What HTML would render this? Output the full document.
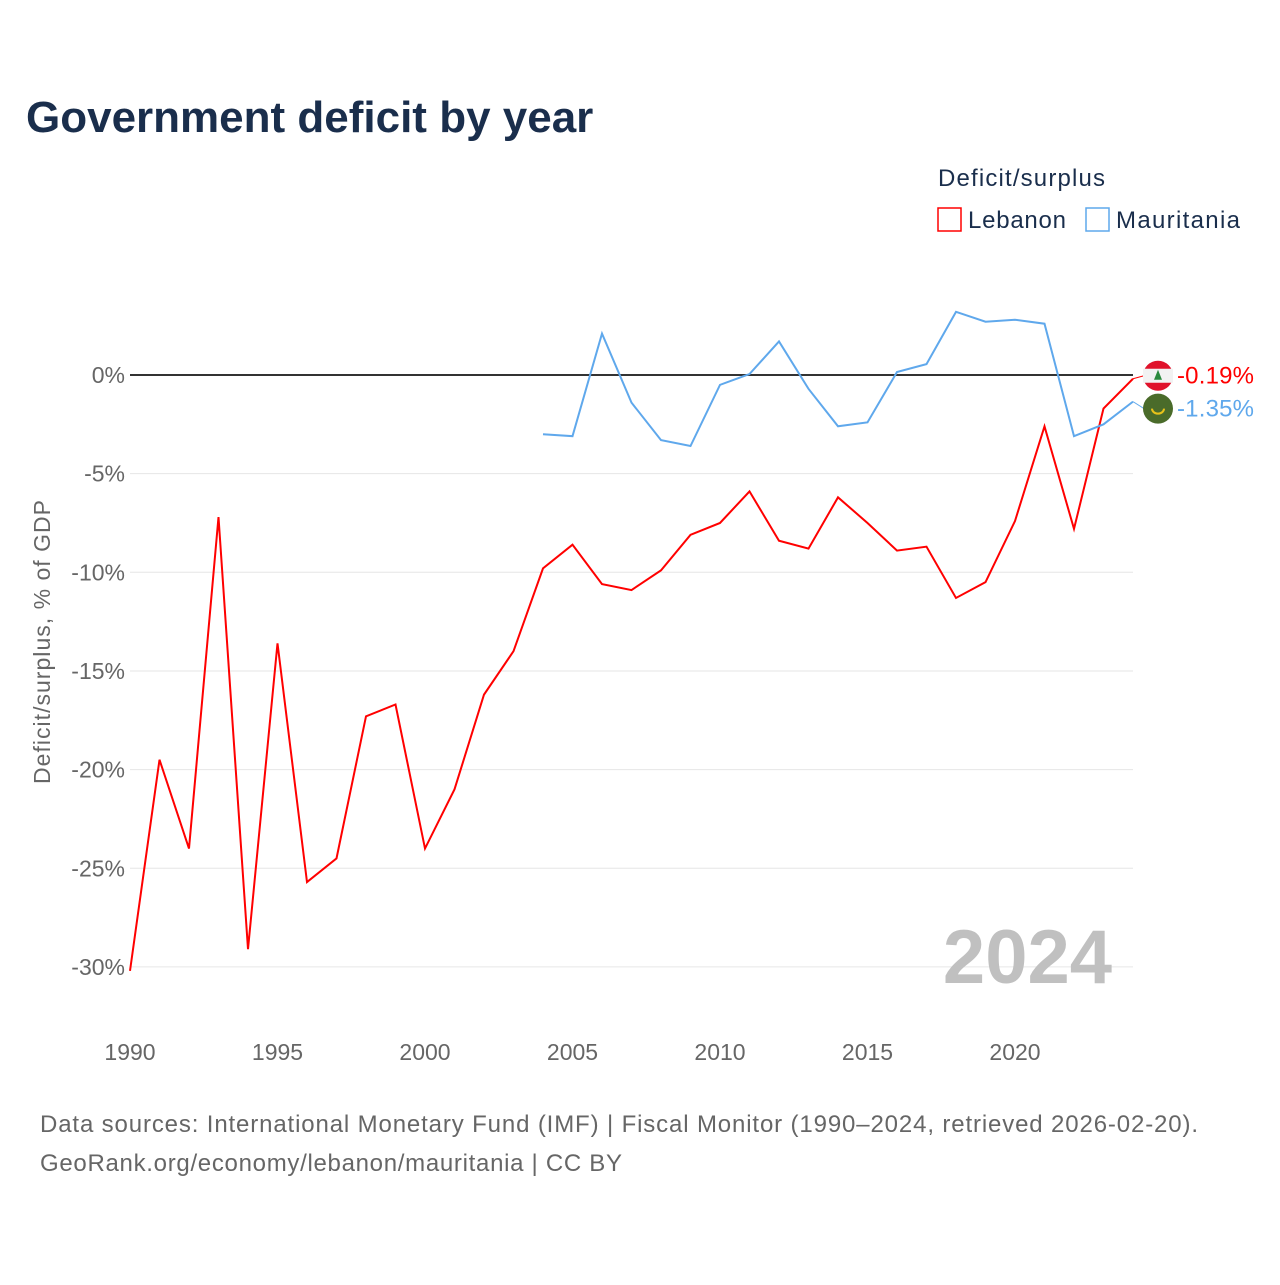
<!DOCTYPE html>
<html><head><meta charset="utf-8"><style>
body{margin:0;background:#fff;font-family:"Liberation Sans",sans-serif;}
</style></head><body>
<svg width="1280" height="1280" viewBox="0 0 1280 1280">
<text x="26" y="132" font-size="44" font-weight="bold" fill="#1a2e4c">Government deficit by year</text>
<text x="938" y="186" font-size="24" fill="#1a2e4c" textLength="167">Deficit/surplus</text>
<g><rect x="938" y="208" width="23" height="23" fill="none" stroke="#f00" stroke-width="1.5"/><text x="968" y="228" font-size="24" fill="#1a2e4c" textLength="98">Lebanon</text></g>
<g><rect x="1086" y="208" width="23" height="23" fill="none" stroke="#5fa8ec" stroke-width="1.5"/><text x="1116" y="228" font-size="24" fill="#1a2e4c" textLength="124">Mauritania</text></g>
<text transform="translate(50,642) rotate(-90)" text-anchor="middle" font-size="23" fill="#666" textLength="284">Deficit/surplus, % of GDP</text>
<g id="grid"></g><g id="xt"></g>
<text x="1112" y="983" text-anchor="end" font-size="76" font-weight="bold" fill="#c0c0c0">2024</text>
<g id="series"></g>
<text x="40" y="1132" font-size="24" fill="#666" textLength="1158">Data sources: International Monetary Fund (IMF) | Fiscal Monitor (1990–2024, retrieved 2026-02-20).</text>
<text x="40" y="1171" font-size="24" fill="#666" textLength="582">GeoRank.org/economy/lebanon/mauritania | CC BY</text>
</svg>
<script>
const years=[];for(let y=1990;y<=2024;y++)years.push(y);
const lebanon=[-30.2,-19.5,-24.0,-7.2,-29.1,-13.6,-25.7,-24.5,-17.3,-16.7,-24.0,-21.0,-16.2,-14.0,-9.8,-8.6,-10.6,-10.9,-9.9,-8.1,-7.5,-5.9,-8.4,-8.8,-6.2,-7.5,-8.9,-8.7,-11.3,-10.5,-7.4,-2.6,-7.8,-1.7,-0.19];
const mauritaniaYears=[2004,2005,2006,2007,2008,2009,2010,2011,2012,2013,2014,2015,2016,2017,2018,2019,2020,2021,2022,2023,2024];
const mauritania=[-3.0,-3.1,2.1,-1.4,-3.3,-3.6,-0.5,0.05,1.7,-0.7,-2.6,-2.4,0.15,0.55,3.2,2.7,2.8,2.6,-3.1,-2.5,-1.35];
const yTicks=[0,-5,-10,-15,-20,-25,-30];
const xTicks=[1990,1995,2000,2005,2010,2015,2020];
const NS='http://www.w3.org/2000/svg';
const X=y=>130+(y-1990)*(1133-130)/34;
const Y=v=>375-v*19.73;
function mk(t,a,p){const e=document.createElementNS(NS,t);for(const k in a)e.setAttribute(k,a[k]);p.appendChild(e);return e;}
const grid=document.getElementById('grid');
yTicks.forEach(t=>{
 const l=mk('line',{x1:130,x2:1133,y1:Y(t),y2:Y(t),stroke:t===0?'#333':'#e6e6e6','stroke-width':t===0?2:1},grid);
 
 
 const tx=mk('text',{x:125,y:Y(t)+8,'text-anchor':'end','font-size':23,fill:'#666'},grid);
 tx.textContent=t+'%';
 
 
});
const xt=document.getElementById('xt');
xTicks.forEach(t=>{
 const tx=mk('text',{x:X(t),y:1060,'text-anchor':'middle','font-size':23,fill:'#666'},xt);
 tx.textContent=t;
 
 
});
const s=document.getElementById('series');
const p1=mk('polyline',{points:years.map((y,i)=>X(y)+','+Y(lebanon[i])).join(' '),fill:'none',stroke:'#f00','stroke-width':2},s);


const p2=mk('polyline',{points:mauritaniaYears.map((y,i)=>X(y)+','+Y(mauritania[i])).join(' '),fill:'none',stroke:'#5fa8ec','stroke-width':2},s);


const lv=lebanon[lebanon.length-1],mv=mauritania[mauritania.length-1];
const ly=Y(lv)-3,my=Y(mv)+7;
mk('line',{x1:X(2024),y1:Y(lv),x2:1144,y2:ly,stroke:'#f00','stroke-width':1},s);
mk('line',{x1:X(2024),y1:Y(mv),x2:1144,y2:my,stroke:'#5fa8ec','stroke-width':1},s);
const f1=mk('g',{},s);


mk('circle',{cx:1158,cy:ly,r:15,fill:'#e0122b'},f1);
mk('rect',{x:1143,y:ly-7,width:30,height:14,fill:'#f2f2f2'},f1);
mk('polygon',{points:`1158,${ly-6} 1162,${ly+4} 1154,${ly+4}`,fill:'#2b8a3e'},f1);
const f2=mk('g',{},s);


mk('circle',{cx:1158,cy:my,r:15,fill:'#4a6b2a'},f2);
mk('path',{d:`M1152 ${my} a6 5 0 0 0 12 0`,fill:'none',stroke:'#e8c21a','stroke-width':2},f2);
const t1=mk('text',{x:1177,y:ly+8,'font-size':24,fill:'#f00',textLength:77},s);
t1.textContent=lv.toFixed(2)+'%';


const t2=mk('text',{x:1177,y:my+8,'font-size':24,fill:'#5fa8ec',textLength:77},s);
t2.textContent=mv.toFixed(2)+'%';


</script>
</body></html>
